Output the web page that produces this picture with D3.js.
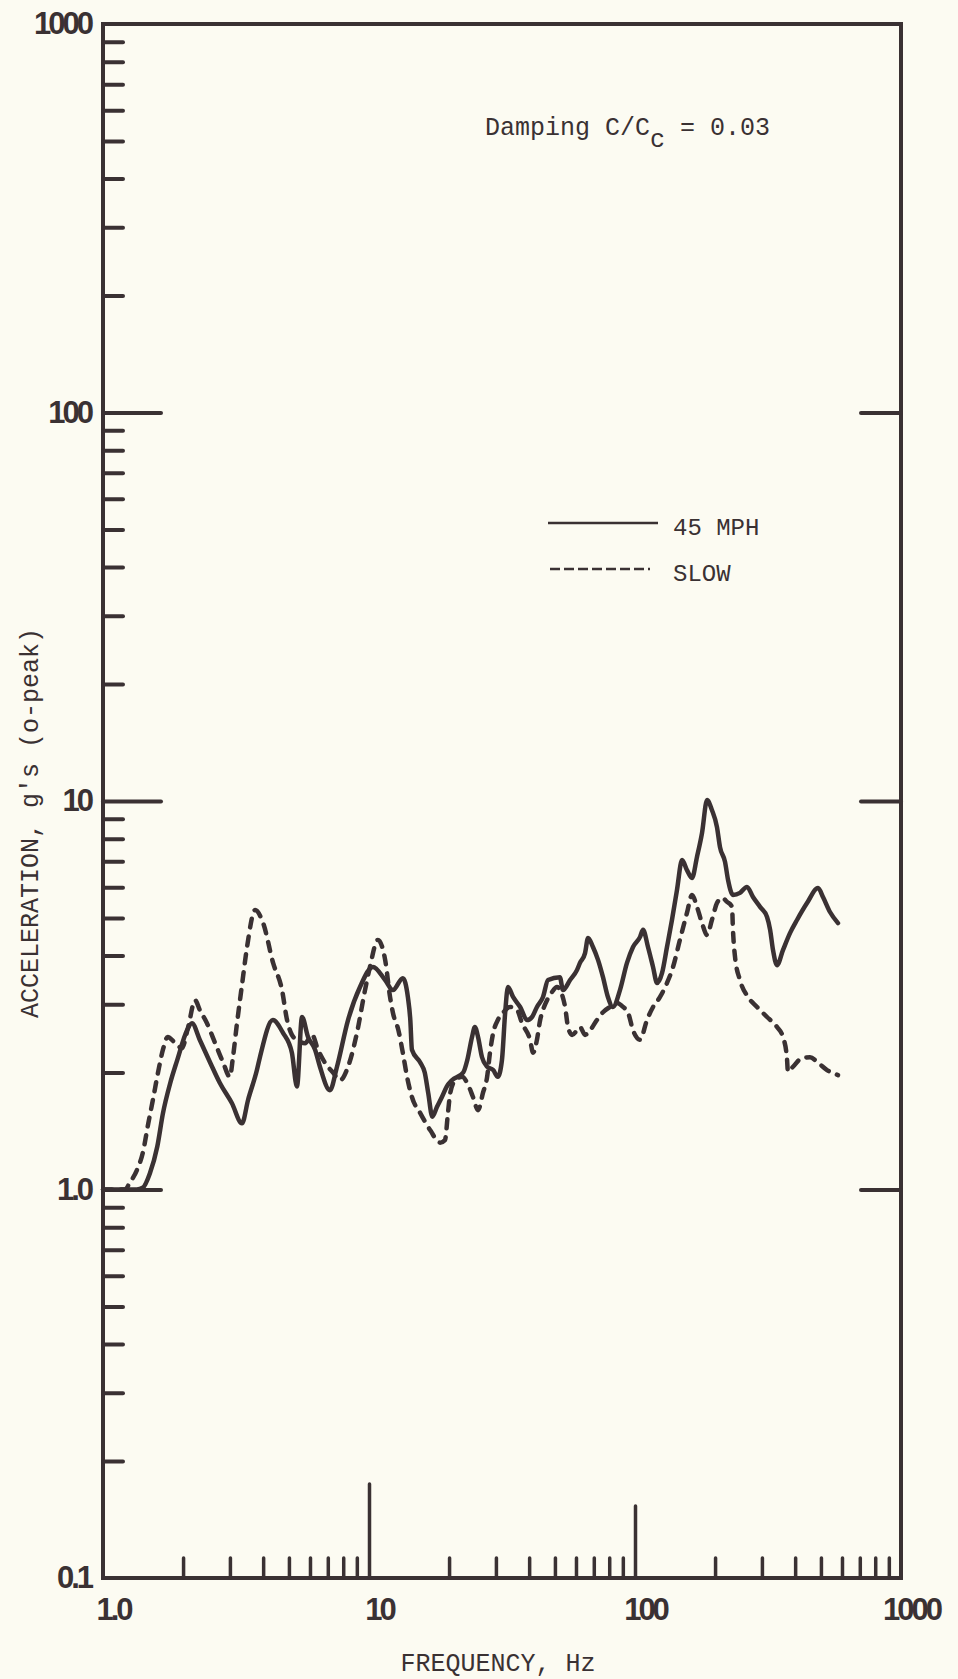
<!DOCTYPE html>
<html>
<head>
<meta charset="utf-8">
<script src="https://cdn.jsdelivr.net/npm/d3@7"></script>
<style>
  html, body { margin: 0; padding: 0; background: #fcfbf2; }
  svg { display: block; }
  .mono { font-family: "Liberation Mono", "DejaVu Sans Mono", monospace; fill: #3a3133; }
  .tick text { font-family: "Liberation Sans", Arial, sans-serif; font-weight: bold; font-size: 31px; letter-spacing: -3px; fill: #3a3133; }
</style>
</head>
<body>
<svg id="chart" width="958" height="1679"></svg>
<script>
// axis ticks
var xTicks = [1, 10, 100, 1000];
var xTickLabels = ["1.0", "10", "100", "1000"];
var yTicks = [0.1, 1, 10, 100, 1000];
var yTickLabels = ["0.1", "1.0", "10", "100", "1000"];

// 45 MPH (solid)
var freqFast = [1.0, 1.34, 1.41, 1.50, 1.60, 1.68, 1.79, 1.90, 2.07, 2.16, 2.31, 2.53, 2.75, 3.05, 3.33, 3.51, 3.79, 3.89,
  4.35, 4.75, 5.13, 5.36, 5.60, 5.90, 6.27, 6.54, 7.13, 7.58, 8.34, 9.25, 10.35, 11.5, 12.3, 13.4, 14.0, 14.3, 14.5,
  15.6, 16.2, 16.7, 17.3, 18.0, 18.8, 19.6, 20.5, 22.6, 23.4, 24.4, 25.0, 25.7, 26.6, 27.8, 29.3, 30.5, 31.6, 32.5,
  33.3, 34.8, 37.0, 39.3, 41.0, 42.8, 45.1, 47.1, 52.2, 53.6, 57.0, 60.5, 62.1, 64.9, 66.6, 69.5, 72.6, 75.8, 79.1,
  82.6, 87.8, 93.3, 98.3, 104.5, 107.2, 111.9, 116.9, 121.0, 126.4, 131.9, 137.7, 143.8, 150.3, 156.8, 163.8, 171.0,
  178.6, 186.6, 194.6, 203.3, 208.7, 218.0, 223.8, 233.5, 248.1, 263.6, 277.7, 295.2, 313.6, 322.1, 330.3, 341.9,
  359.9, 382.5, 406.5, 443.3, 487.7, 509.0, 540.8, 579.6];
var accFast = [1.0, 1.0, 1.01, 1.10, 1.29, 1.57, 1.88, 2.15, 2.57, 2.68, 2.43, 2.12, 1.88, 1.67, 1.48, 1.70, 2.03, 2.19,
  2.73, 2.53, 2.25, 1.84, 2.78, 2.47, 2.29, 2.07, 1.80, 2.07, 2.73, 3.32, 3.74, 3.46, 3.26, 3.50, 3.13, 2.73, 2.29,
  2.12, 2.00, 1.77, 1.54, 1.63, 1.73, 1.84, 1.91, 2.00, 2.15, 2.47, 2.62, 2.47, 2.19, 2.07, 2.03, 1.95, 2.15, 2.85,
  3.32, 3.13, 2.95, 2.73, 2.78, 2.95, 3.13, 3.46, 3.52, 3.26, 3.46, 3.67, 3.83, 4.06, 4.44, 4.21, 3.90, 3.52, 3.13,
  2.95, 3.26, 3.83, 4.21, 4.47, 4.66, 4.21, 3.74, 3.40, 3.61, 4.21, 4.94, 5.90, 7.05, 6.64, 6.34, 7.18,
  8.27, 10.06, 9.48, 8.57, 7.61, 6.97, 6.26, 5.73, 5.80, 6.01, 5.66, 5.34, 5.03, 4.66, 4.13, 3.78,
  4.13, 4.57, 4.94, 5.46, 5.97, 5.66, 5.18, 4.85];

// SLOW (dashed)
var freqSlow = [1.0, 1.21, 1.26, 1.34, 1.41, 1.48, 1.54, 1.61, 1.68, 1.75, 1.87, 1.98, 2.09, 2.22, 2.31, 2.46, 2.64, 2.83,
  3.00, 3.08, 3.19, 3.33, 3.48, 3.73, 4.00, 4.36, 4.71, 4.92, 5.13, 5.36, 5.75, 6.11, 6.43, 6.83, 7.32, 7.78, 8.34,
  9.01, 9.66, 10.08, 10.8, 11.5, 12.0, 12.3, 12.9, 13.4, 13.9, 14.5, 15.6, 17.0, 18.5, 19.3, 19.8, 20.2, 21.1, 22.4,
  23.4, 24.6, 25.7, 26.8, 27.8, 28.5, 29.3, 30.5, 31.9, 33.9, 36.0, 37.6, 40.3, 41.4, 42.8, 44.0, 45.1, 46.7, 48.7,
  50.9, 53.2, 54.6, 56.0, 58.0, 60.5, 62.1, 64.9, 67.8, 71.9, 75.8, 80.5, 85.5, 90.2, 94.2, 98.3, 104.5, 110.9, 116.9,
  124.2, 131.9, 139.0, 147.5, 156.8, 163.8, 171.0, 178.6, 186.6, 194.6, 203.3, 212.5, 221.9, 231.6, 233.5, 237.7,
  248.1, 266.0, 287.6, 313.6, 341.9, 359.9, 372.4, 375.8, 392.6, 424.6, 455.0, 487.7, 527.2, 579.6];
var accSlow = [1.0, 1.0, 1.04, 1.12, 1.24, 1.48, 1.70, 2.00, 2.29, 2.47, 2.38, 2.31, 2.62, 3.07, 2.90, 2.68, 2.38, 2.12,
  1.95, 2.19, 2.68, 3.36, 4.21, 5.24, 4.85, 3.83, 3.26, 2.73, 2.50, 2.43, 2.38, 2.50, 2.29, 2.12, 2.00, 1.91, 2.07,
  2.53, 3.26, 3.74, 4.39, 3.90, 3.13, 2.85, 2.57, 2.25, 1.95, 1.73, 1.57, 1.42, 1.32, 1.34, 1.57, 1.77, 1.91, 1.95,
  1.88, 1.73, 1.60, 1.77, 1.95, 2.25, 2.53, 2.73, 2.85, 2.95, 2.90, 2.68, 2.43, 2.25, 2.43, 2.73, 2.90, 3.07, 3.22,
  3.32, 3.17, 2.95, 2.62, 2.50, 2.57, 2.62, 2.50, 2.57, 2.73, 2.86, 2.95, 3.02, 2.95, 2.85, 2.57, 2.43, 2.73, 2.95,
  3.13, 3.40, 3.74, 4.39, 5.15, 5.73, 5.34, 4.85, 4.52, 4.94, 5.46, 5.63, 5.50, 5.34, 4.66, 3.97,
  3.46, 3.13, 2.95, 2.78, 2.62, 2.47, 2.19, 2.01, 2.07, 2.18, 2.19, 2.12, 2.03, 1.97];

var ink = "#3a3133";
var svg = d3.select("#chart");
var box = {left: 103, right: 901, top: 24, bottom: 1578};

var x = d3.scaleLog().domain([1, 1000]).range([box.left, box.right]);
var y = d3.scaleLog().domain([0.1, 1000]).range([box.bottom, box.top]);

function minors(lo, hi) {
  var out = [];
  for (var p = lo; p < hi; p *= 10) {
    for (var k = 2; k <= 9; k++) out.push(+(k * p).toPrecision(3));
  }
  return out;
}

function styleTicks(g, w) {
  g.select(".domain").remove();
  g.selectAll(".tick line").attr("stroke", ink).attr("stroke-width", w).attr("stroke-linecap", "round");
}

// frame
svg.append("rect")
  .attr("x", box.left).attr("y", box.top)
  .attr("width", box.right - box.left).attr("height", box.bottom - box.top)
  .attr("fill", "none").attr("stroke", ink).attr("stroke-width", 4);

// left side ticks
svg.append("g").attr("transform", "translate(" + box.left + ",0)")
  .call(d3.axisRight(y).tickValues(minors(0.1, 1000)).tickSize(20).tickFormat(""))
  .call(styleTicks, 4);
svg.append("g").attr("transform", "translate(" + box.left + ",0)")
  .call(d3.axisRight(y).tickValues([1, 10, 100]).tickSize(58).tickFormat(""))
  .call(styleTicks, 4);
// right side ticks
svg.append("g").attr("transform", "translate(" + box.right + ",0)")
  .call(d3.axisLeft(y).tickValues([1, 10, 100]).tickSize(40).tickFormat(""))
  .call(styleTicks, 4);

// bottom ticks
svg.append("g").attr("transform", "translate(0," + box.bottom + ")")
  .call(d3.axisTop(x).tickValues(minors(1, 1000)).tickSize(20).tickFormat(""))
  .call(styleTicks, 3.5);
svg.append("g").attr("transform", "translate(0," + box.bottom + ")")
  .call(d3.axisTop(x).tickValues([10]).tickSize(94).tickFormat(""))
  .call(styleTicks, 3.5);
svg.append("g").attr("transform", "translate(0," + box.bottom + ")")
  .call(d3.axisTop(x).tickValues([100]).tickSize(72).tickFormat(""))
  .call(styleTicks, 3.5);

// tick labels
svg.append("g").attr("transform", "translate(" + (box.left - 12) + ",0)")
  .call(d3.axisLeft(y).tickValues(yTicks).tickSize(0).tickPadding(0)
    .tickFormat(function(d, i) { return yTickLabels[i]; }))
  .call(function(g) { g.select(".domain").remove(); });

svg.append("g").attr("transform", "translate(10," + box.bottom + ")")
  .call(d3.axisBottom(x).tickValues(xTicks).tickSize(0).tickPadding(20)
    .tickFormat(function(d, i) { return xTickLabels[i]; }))
  .call(function(g) { g.select(".domain").remove(); });

// curves
var line = d3.line()
  .x(function(d) { return x(d[0]); })
  .y(function(d) { return y(d[1]); })
  .curve(d3.curveMonotoneX);

svg.append("path")
  .datum(d3.zip(freqFast, accFast))
  .attr("d", line)
  .attr("fill", "none").attr("stroke", ink).attr("stroke-width", 4.5)
  .attr("stroke-linejoin", "round").attr("stroke-linecap", "round");

svg.append("path")
  .datum(d3.zip(freqSlow, accSlow))
  .attr("d", line)
  .attr("fill", "none").attr("stroke", ink).attr("stroke-width", 4.5)
  .attr("stroke-dasharray", "9,9")
  .attr("stroke-linejoin", "round").attr("stroke-linecap", "round");

// legend
svg.append("line").attr("x1", 548).attr("x2", 658).attr("y1", 523).attr("y2", 523)
  .attr("stroke", ink).attr("stroke-width", 2.5);
svg.append("line").attr("x1", 550).attr("x2", 650).attr("y1", 569).attr("y2", 569)
  .attr("stroke", ink).attr("stroke-width", 2.5).attr("stroke-dasharray", "10,4");
svg.append("text").attr("class", "mono").attr("x", 673).attr("y", 535)
  .style("font-size", "24px").text("45 MPH");
svg.append("text").attr("class", "mono").attr("x", 673).attr("y", 581)
  .style("font-size", "24px").text("SLOW");

// damping note
var note = svg.append("text").attr("class", "mono").attr("x", 485).attr("y", 135).style("font-size", "25px");
note.append("tspan").text("Damping C/C");
note.append("tspan").attr("dy", 12).text("c");
note.append("tspan").attr("dy", -12).text(" = 0.03");

// axis titles
svg.append("text").attr("class", "mono")
  .attr("transform", "translate(38,823) rotate(-90)")
  .attr("text-anchor", "middle").style("font-size", "25px")
  .text("ACCELERATION, g's (o-peak)");
svg.append("text").attr("class", "mono")
  .attr("x", 498).attr("y", 1671)
  .attr("text-anchor", "middle").style("font-size", "25px")
  .text("FREQUENCY, Hz");
</script>
</body>
</html>
